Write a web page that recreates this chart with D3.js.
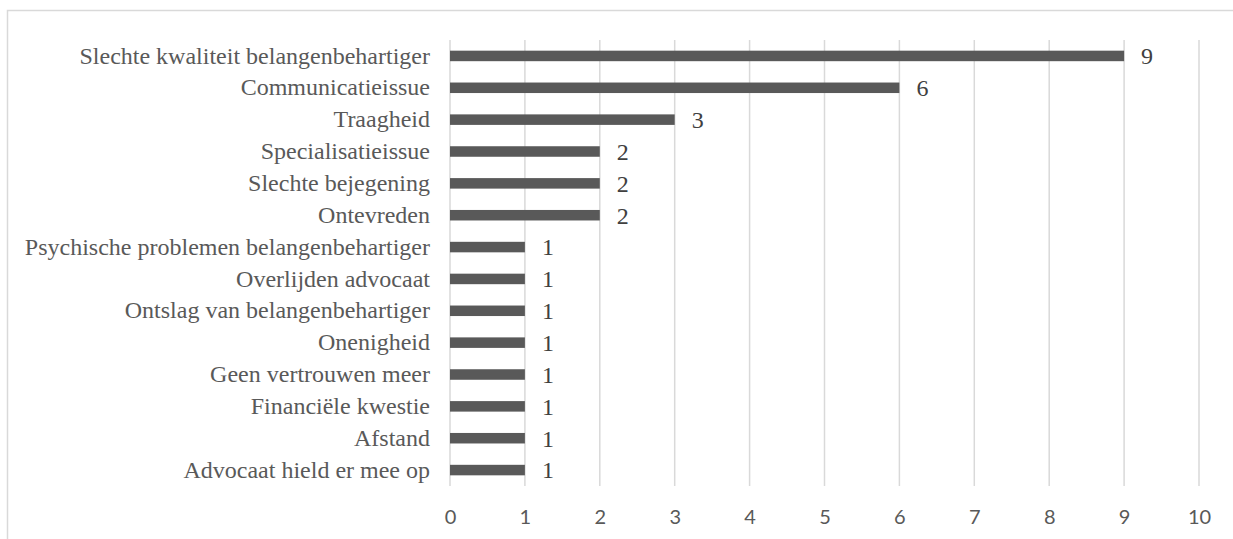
<!DOCTYPE html>
<html>
<head>
<meta charset="utf-8">
<script src="https://cdn.jsdelivr.net/npm/d3@7"></script>
<style>
  html, body { margin: 0; padding: 0; background: #fff; }
  svg { display: block; }
</style>
</head>
<body>
<svg id="chart" width="1233" height="539"></svg>
<script>
// Reasons given for switching legal representative (counts)
const categories = [
  "Slechte kwaliteit belangenbehartiger",
  "Communicatieissue",
  "Traagheid",
  "Specialisatieissue",
  "Slechte bejegening",
  "Ontevreden",
  "Psychische problemen belangenbehartiger",
  "Overlijden advocaat",
  "Ontslag van belangenbehartiger",
  "Onenigheid",
  "Geen vertrouwen meer",
  "Financiële kwestie",
  "Afstand",
  "Advocaat hield er mee op"
];
const counts = [9, 6, 3, 2, 2, 2, 1, 1, 1, 1, 1, 1, 1, 1];
const tickValues = [0, 1, 2, 3, 4, 5, 6, 7, 8, 9, 10];

const svg = d3.select("#chart");
const W = 1233, H = 539;
const plot = { left: 450, right: 1199, top: 40, bottom: 486 };
const serif = "'Liberation Serif', 'Times New Roman', serif";

// chart frame
svg.append("rect")
  .attr("x", 7.5).attr("y", 10.5)
  .attr("width", W + 20).attr("height", H + 20)
  .attr("fill", "#fff")
  .attr("stroke", "#d9d9d9").attr("stroke-width", 1.5);

const x = d3.scaleLinear().domain([0, 10]).range([plot.left, plot.right]);
const y = d3.scaleBand().domain(categories)
  .range([plot.top, plot.bottom])
  .paddingInner(0.67).paddingOuter(0.335);

// vertical gridlines
svg.append("g").selectAll("line")
  .data(tickValues)
  .join("line")
  .attr("x1", d => x(d)).attr("x2", d => x(d))
  .attr("y1", plot.top).attr("y2", plot.bottom)
  .attr("stroke", "#d9d9d9").attr("stroke-width", 1.5);

// bars
svg.append("g").selectAll("rect")
  .data(categories)
  .join("rect")
  .attr("x", x(0))
  .attr("y", d => y(d))
  .attr("width", (d, i) => x(counts[i]) - x(0))
  .attr("height", y.bandwidth())
  .attr("fill", "#595959");

// value labels
svg.append("g").selectAll("text")
  .data(categories)
  .join("text")
  .attr("x", (d, i) => x(counts[i]) + 17)
  .attr("y", d => y(d) + y.bandwidth() / 2)
  .attr("dy", "0.35em")
  .attr("font-family", serif)
  .attr("font-size", 24)
  .attr("fill", "#404040")
  .text((d, i) => counts[i]);

// category axis
const yAxis = svg.append("g")
  .attr("transform", `translate(${plot.left - 20},0)`)
  .call(d3.axisLeft(y).tickSize(0).tickPadding(0));
yAxis.select(".domain").remove();
yAxis.selectAll("text")
  .attr("font-family", serif)
  .attr("font-size", 24)
  .attr("fill", "#595959");

// value axis
const xAxis = svg.append("g")
  .attr("transform", `translate(0,${plot.bottom})`)
  .call(d3.axisBottom(x).tickValues(tickValues).tickSize(0).tickPadding(24));
xAxis.select(".domain").remove();
xAxis.selectAll("text")
  .attr("font-family", "Lato, 'Open Sans', sans-serif")
  .attr("font-size", 20)
  .attr("fill", "#595959");
</script>
</body>
</html>
